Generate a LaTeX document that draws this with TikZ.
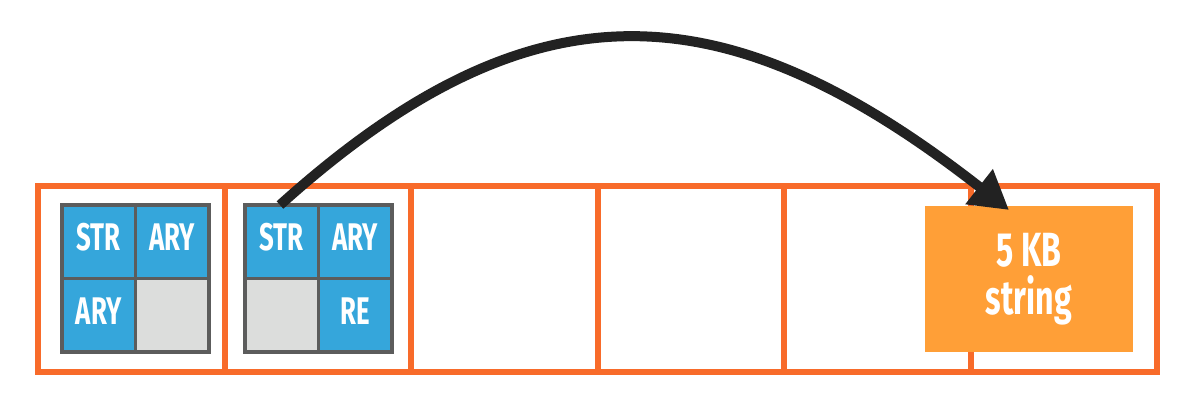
\documentclass[tikz,border=0pt]{standalone}
\usepackage{fontspec}
\setmainfont{Fira Sans}[FakeStretch=0.67]
\usetikzlibrary{arrows.meta}
\definecolor{frameorange}{HTML}{F86B2A}
\definecolor{cellblue}{HTML}{35A6DB}
\definecolor{cellgray}{HTML}{DCDDDC}
\definecolor{griddark}{HTML}{5C5C5C}
\definecolor{boxorange}{HTML}{FF9F37}
\definecolor{arrowdark}{HTML}{222222}
\tikzset{
  slot/.style={draw=frameorange, line width=6pt, rectangle, inner sep=0pt,
    minimum width=186.5pt, minimum height=186pt},
  cellbase/.style={draw=griddark, line width=3.5pt, rectangle, inner sep=0pt,
    minimum size=73.5pt, text=white, font=\fontsize{38.5}{40}\selectfont\bfseries,
    text height=26.5pt, text depth=9pt},
  usedcell/.style={cellbase, fill=cellblue},
  freecell/.style={cellbase, fill=cellgray},
  bigstring/.style={fill=boxorange, rectangle, inner sep=0pt, minimum width=208pt,
    minimum height=146pt, text=white, align=center,
    font=\fontsize{48}{48}\selectfont\bfseries},
  pointer/.style={draw=arrowdark, line width=10pt,
    -{Triangle[length=38pt,width=42pt]}}
}
\begin{document}
\begin{tikzpicture}[x=1pt,y=-1pt]
\useasboundingbox[fill=white] (0,0) rectangle (1201,416);
% memory slots
\node[slot] (s1) at (131.25,279) {};
\node[slot] (s2) at (317.75,279) {};
\node[slot] (s3) at (504.25,279) {};
\node[slot] (s4) at (690.75,279) {};
\node[slot] (s5) at (877.25,279) {};
\node[slot] (s6) at (1063.75,279) {};
% first grid
\node[usedcell] (a11) at (98.75,241.75) {STR};
\node[usedcell] (a12) at (172.25,241.75) {ARY};
\node[usedcell] (a21) at (98.75,315.25) {ARY};
\node[freecell] (a22) at (172.25,315.25) {};
% second grid
\node[usedcell] (b11) at (281.75,241.75) {STR};
\node[usedcell] (b12) at (355.25,241.75) {ARY};
\node[freecell] (b21) at (281.75,315.25) {};
\node[usedcell] (b22) at (355.25,315.25) {RE};
% big string
\node[bigstring] (big) at (1029,279) {5 KB\\string};
% pointer
\coordinate (pstart) at (280,205);
\coordinate (pend) at (1009,210);
\draw[pointer] (pstart) .. controls (533,-23) and (725.5,-11.6) .. (pend);
\end{tikzpicture}
\end{document}
